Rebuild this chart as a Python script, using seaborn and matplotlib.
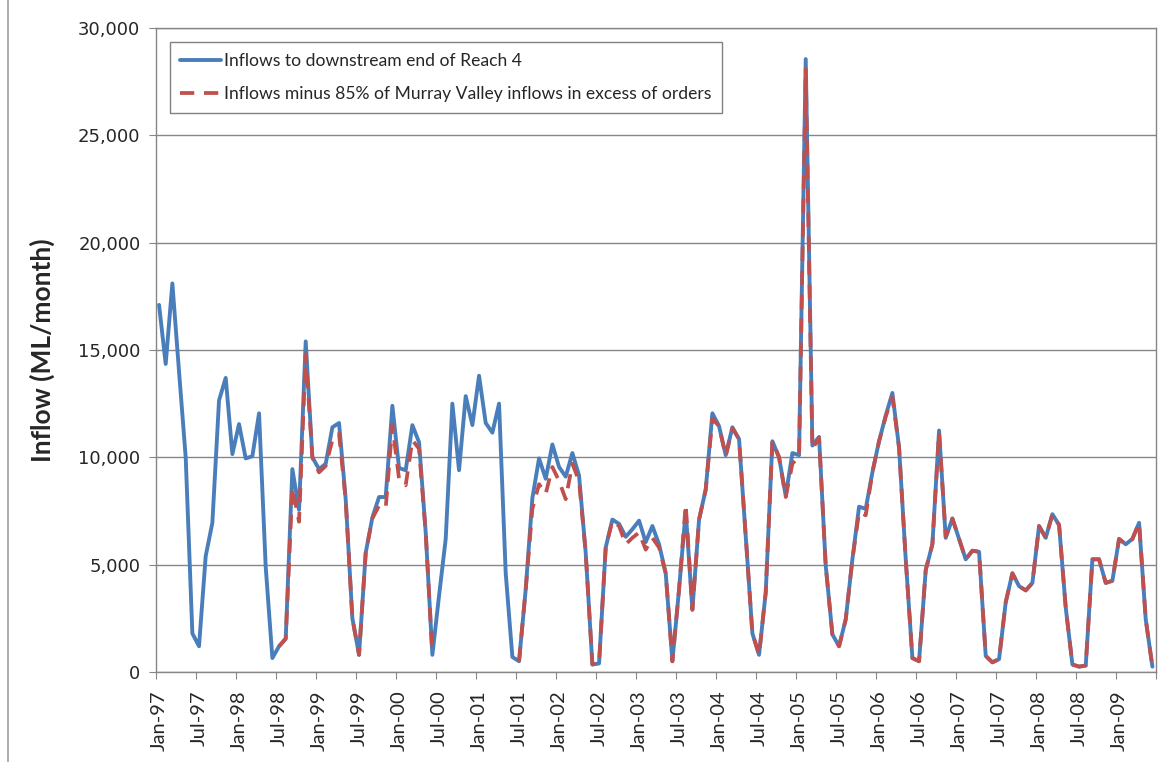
import matplotlib
matplotlib.use("Agg")
import matplotlib.pyplot as plt
from matplotlib.lines import Line2D
from matplotlib.ticker import FuncFormatter
import seaborn as sns
import numpy as np
import pandas as pd

# monthly series Jan-97 .. Jun-09 (ML/month)
inflow_reach4 = [
    17100, 14350, 18100, 14000, 10000, 1800, 1200, 5400, 6950, 12650,
    13700, 10150, 11550, 9950, 10050, 12050, 4900, 650, 1200, 1550,
    9450, 7550, 15400, 10000, 9450, 9700, 11400, 11600, 8050, 2500,
    800, 5550, 7200, 8150, 8150, 12400, 9500, 9400, 11500, 10700,
    6500, 800, 3550, 6200, 12500, 9400, 12850, 11500, 13800, 11600,
    11150, 12500, 4600, 700, 500, 3850, 8100, 9950, 9000, 10600,
    9550, 9100, 10200, 9150, 5550, 350, 400, 5800, 7100, 6900,
    6300, 6650, 7050, 6050, 6800, 5950, 4600, 500, 3850, 7500,
    2900, 7100, 8500, 12050, 11450, 10100, 11400, 10850, 6350, 1800,
    800, 3700, 10750, 10000, 8200, 10200, 10100, 28550, 10550, 10950,
    4950, 1750, 1200, 2450, 5250, 7700, 7600, 9300, 10750, 11950,
    13000, 10450, 5250, 650, 500, 4750, 5950, 11250, 6250, 7150,
    6200, 5250, 5650, 5600, 750, 450, 600, 3250, 4600, 4000,
    3800, 4150, 6800, 6250, 7350, 6850, 3000, 350, 250, 300,
    5250, 5250, 4150, 4250, 6200, 5950, 6200, 6950, 2450, 250,
]

nan = np.nan
inflow_minus_mv = [
    nan, nan, nan, nan, nan, nan, nan, nan, nan, nan,
    nan, nan, nan, nan, nan, nan, nan, nan, 1200, 1550,
    8600, 7000, 14800, 10000, 9300, 9600, 10800, 11100, 8000, 2500,
    800, 5550, 7150, 7750, 7650, 11500, 9000, 8700, 10800, 10400,
    6500, 800, nan, nan, nan, nan, nan, nan, nan, nan,
    nan, nan, nan, nan, 500, 3850, 7600, 8750, 8300, 9550,
    8900, 8050, 9700, 8900, 5550, 350, 400, 5800, 7050, 6800,
    5950, 6250, 6500, 5700, 6250, 5800, 4600, 500, 3850, 7800,
    2900, 7100, 8500, 11800, 11450, 10050, 11350, 10850, 6350, 1800,
    800, 3700, 10750, 10000, 8150, 9700, 10050, 28100, 10400, 10900,
    4950, 1750, 1200, 2450, 5250, 7450, 7300, 9300, 10750, 11900,
    12800, 10450, 5250, 650, 500, 4750, 5950, 11150, 6300, 7150,
    6200, 5250, 5650, 5600, 750, 450, 600, 3250, 4600, 4000,
    3800, 4150, 6800, 6250, 7350, 6850, 3000, 350, 250, 300,
    5250, 5250, 4150, 4250, 6200, 5950, 6200, 6950, 2450, 250,
]

tick_labels = ['Jan-97', 'Jul-97', 'Jan-98', 'Jul-98', 'Jan-99', 'Jul-99', 'Jan-00',
               'Jul-00', 'Jan-01', 'Jul-01', 'Jan-02', 'Jul-02', 'Jan-03', 'Jul-03',
               'Jan-04', 'Jul-04', 'Jan-05', 'Jul-05', 'Jan-06', 'Jul-06', 'Jan-07',
               'Jul-07', 'Jan-08', 'Jul-08', 'Jan-09']

label_blue = 'Inflows to downstream end of Reach 4'
label_red = 'Inflows minus 85% of Murray Valley inflows in excess of orders'

df = pd.DataFrame({'month': np.arange(len(inflow_reach4)),
                   'inflow': inflow_reach4,
                   'adjusted': inflow_minus_mv})
df['seg'] = df['adjusted'].isna().cumsum()
df_red = df.dropna(subset=['adjusted'])

sns.set_style("white")
plt.rcParams['font.family'] = ['DejaVu Sans']

BLUE = '#4A7EBB'
RED = '#C0504D'
GREY = '#868686'

fig = plt.figure(figsize=(11.68, 7.62), dpi=100)
ax = fig.add_axes([0.1333, 0.1181, 0.8562, 0.8452])

sns.lineplot(data=df, x='month', y='inflow', ax=ax, color=BLUE, lw=2.8,
             label=label_blue, legend=False)
first = True
for _, seg in df_red.groupby('seg'):
    sns.lineplot(data=seg, x='month', y='adjusted', ax=ax, color=RED, lw=2.7,
                 linestyle=(0, (3.8, 2.6)), label=label_red if first else None,
                 legend=False)
    first = False

ax.set_xlim(-0.5, len(inflow_reach4) - 0.5)
ax.set_ylim(0, 30000)
ax.set_yticks(np.arange(0, 30001, 5000))
ax.yaxis.set_major_formatter(FuncFormatter(lambda v, p: f'{int(v):,}'))
ax.grid(axis='y', color=GREY, lw=1)
ax.set_axisbelow(True)

# ticks between categories, labels on the categories
ax.set_xticks(np.arange(-0.5, len(inflow_reach4), 6))
ax.set_xticklabels([])
ax.set_xticks(np.arange(0, len(inflow_reach4), 6)[:len(tick_labels)], minor=True)
ax.set_xticklabels(tick_labels, minor=True, rotation=90, fontsize=14.5,
                   family=['Lato', 'DejaVu Sans'])
ax.tick_params(axis='x', which='major', direction='out', length=5, color=GREY, bottom=True)
ax.tick_params(axis='x', which='minor', length=0, pad=13)
ax.tick_params(axis='y', direction='out', length=5, color=GREY, left=True,
               labelsize=13, pad=6)

for s in ax.spines.values():
    s.set_color(GREY)
    s.set_linewidth(1)

ax.set_xlabel('')
ax.set_ylabel('Inflow (ML/month)', fontsize=19, fontweight='bold',
              family=['Lato', 'DejaVu Sans'])
ax.yaxis.set_label_coords(-0.101, 0.5)

leg = ax.legend(loc='upper left', bbox_to_anchor=(0.0143, 0.978), borderaxespad=0,
                frameon=True, fancybox=False, edgecolor='#808080', framealpha=1,
                prop={'family': ['Lato', 'DejaVu Sans'], 'size': 12.6},
                handlelength=2.3, handletextpad=0.2, labelspacing=1.0,
                borderpad=0.6)
leg.get_frame().set_linewidth(1)

fig.add_artist(Line2D([0.0072, 0.0072], [0, 1], color='#A0A0A0', lw=1.2))

fig.savefig('out.png', dpi=100)
